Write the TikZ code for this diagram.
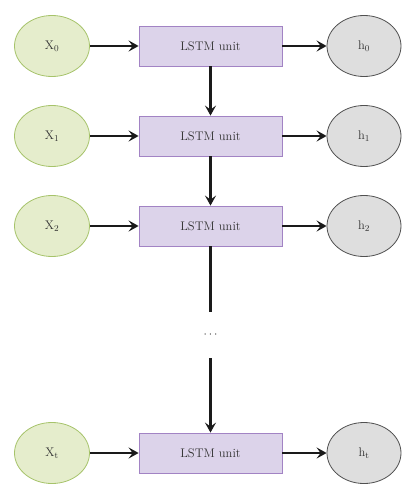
\documentclass[tikz,border=0pt]{standalone}
\usetikzlibrary{arrows.meta}
\definecolor{gfill}{HTML}{E5EDCC}
\definecolor{gline}{HTML}{A6C36A}
\definecolor{pfill}{HTML}{DCD3EA}
\definecolor{pline}{HTML}{A283C4}
\definecolor{hfill}{HTML}{DEDEDE}
\definecolor{hline}{HTML}{505050}
\definecolor{txt}{HTML}{333333}
\definecolor{arr}{HTML}{1A1A1A}
\tikzset{
  xnode/.style={ellipse, draw=gline, fill=gfill, line width=0.8pt, minimum width=75pt, minimum height=61pt, inner sep=0pt, text=txt, font=\fontsize{12.5}{14}\selectfont},
  hnode/.style={ellipse, draw=hline, fill=hfill, line width=0.8pt, minimum width=74pt, minimum height=61pt, inner sep=0pt, text=txt, font=\fontsize{12.5}{14}\selectfont},
  lstm/.style={rectangle, draw=pline, fill=pfill, line width=0.8pt, minimum width=143pt, minimum height=40pt, inner sep=0pt, text=txt, font=\fontsize{12.5}{14}\selectfont},
  conn/.style={draw=arr, line width=2.2pt, -{Stealth[length=10pt,width=11pt,inset=4pt]}},
  plain/.style={draw=arr, line width=2.2pt},
}
\usetikzlibrary{shapes.geometric}
\begin{document}
\begin{tikzpicture}[x=1pt,y=-1pt]
\useasboundingbox (0,0) rectangle (416,500);
\foreach \i/\y/\s in {0/46/0, 1/136/1, 2/226/2, t/453/t}{
  \node[xnode] (x\i) at (52,\y) {X$_{\mathrm{\s}}$};
  \node[lstm] (l\i) at (210.5,\y) {LSTM unit};
  \node[hnode] (h\i) at (364,\y) {h$_{\mathrm{\s}}$};
  \draw[conn] (x\i) -- (l\i);
  \draw[conn] (l\i) -- (h\i);
}
\draw[conn] (l0) -- (l1);
\draw[conn] (l1) -- (l2);
\coordinate (c1) at (210.5,312);
\coordinate (c2) at (210.5,358);
\node[text=txt, font=\fontsize{12.5}{14}\selectfont] (dots) at (210.5,335) {$\cdots$};
\draw[plain] (l2) -- (c1);
\draw[conn] (c2) -- (lt);
\end{tikzpicture}
\end{document}
